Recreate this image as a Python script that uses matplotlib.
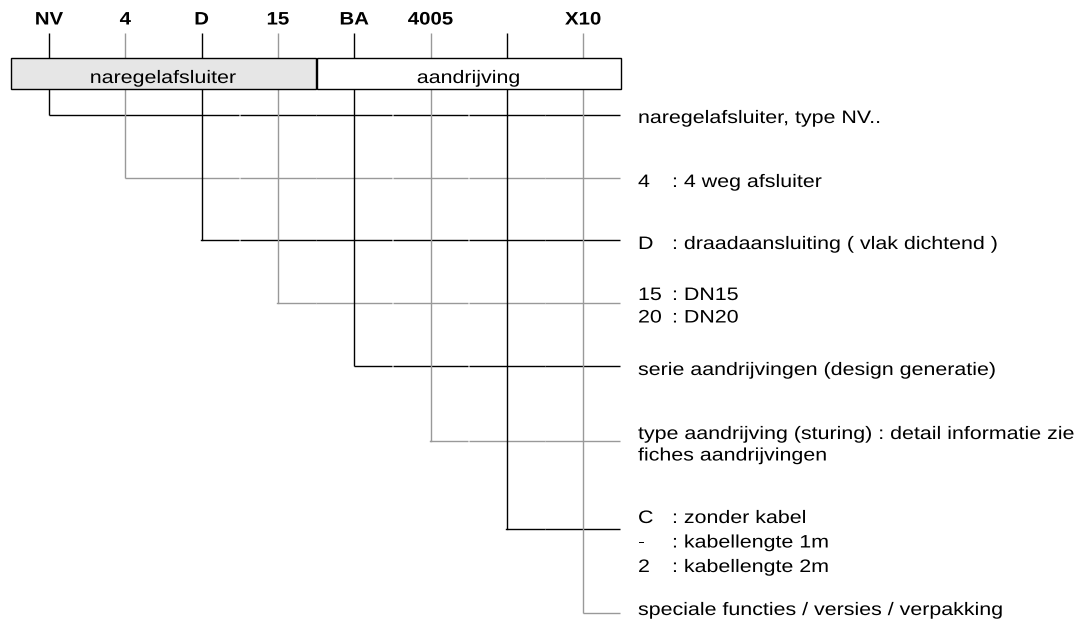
import matplotlib
matplotlib.use("Agg")
import matplotlib.pyplot as plt
import matplotlib.patheffects as pe
from matplotlib.patches import Rectangle
from matplotlib.transforms import Affine2D

# --- content -------------------------------------------------------------
codes = ["NV", "4", "D", "15", "BA", "4005", "", "X10"]
groups = ["naregelafsluiter", "aandrijving"]
group_cols = [(0, 3), (4, 7)]
descriptions = [
    [("", "naregelafsluiter, type NV..")],
    [("4", ": 4 weg afsluiter")],
    [("D", ": draadaansluiting ( vlak dichtend )")],
    [("15", ": DN15"), ("20", ": DN20")],
    [("", "serie aandrijvingen (design generatie)")],
    [("", "type aandrijving (sturing) : detail informatie zie"), ("", "fiches aandrijvingen")],
    [("C", ": zonder kabel"), ("-", ": kabellengte 1m"), ("2", ": kabellengte 2m")],
    [("", "speciale functies / versies / verpakking")],
]

# --- layout (pixels) -----------------------------------------------------
W, H = 1082, 628
col0, col_step = 49, 76.3
row_y = [115, 178, 240, 303, 366, 441, 529, 613]
text_base = [123, 187, 249, 300, 375, 439, 523, 615]
line_gap = [21, 21, 21, 22.5, 21, 21.5, 24.5, 21]
line_end = 620
text_x, colon_x = 638, 672
top_y, box_top, box_bot = 33, 58, 89
BLACK, GREY, FILL = "#000000", "#999999", "#e6e6e6"
FONT = "Liberation Sans"
FS = 13


def col_x(i):
    return col0 + col_step * i


class Wide(pe.AbstractPathEffect):
    # the source text is set wider than Arial, stretch glyphs horizontally
    def __init__(self, sx=1.185, centre=False):
        super().__init__()
        self.sx, self.centre = sx, centre

    def draw_path(self, renderer, gc, tpath, affine, rgbFace=None):
        cx = 0
        if self.centre:
            ext = tpath.get_extents()
            cx = (ext.x0 + ext.x1) / 2
        t = Affine2D().translate(-cx, 0).scale(self.sx, 1).translate(cx, 0)
        renderer.draw_path(gc, tpath, t + affine, rgbFace)


def hline(ax, y, x0, x1, color):
    # lines in the original are built from short pieces with tiny gaps
    cuts = [x0] + [col_x(i + 0.5) for i in range(2, 7) if x0 < col_x(i + 0.5) < x1] + [x1]
    for a, b in zip(cuts[:-1], cuts[1:]):
        ax.plot([a + 0.4, b - 0.4], [y, y], color=color, lw=1.0,
                solid_capstyle="butt", zorder=1)


fig = plt.figure(figsize=(W / 100, H / 100), dpi=100)
ax = fig.add_axes([0, 0, 1, 1])
ax.set_xlim(0, W)
ax.set_ylim(H, 0)
ax.axis("off")

wide_l = [Wide()]
wide_c = [Wide(centre=True)]
wide_b = [Wide(1.13, centre=True)]

# code letters on top + leader lines
for i, code in enumerate(codes):
    x = col_x(i)
    color = BLACK if i % 2 == 0 else GREY
    ax.plot([x, x], [top_y, row_y[i]], color=color, lw=1.0,
            solid_capstyle="butt", zorder=1)
    ax.plot([x - 0.5, x], [row_y[i], row_y[i]], color=color, lw=1.0, zorder=1)
    hline(ax, row_y[i], x - 0.5, line_end, color)
    if code:
        ax.text(x, 24.5, code, ha="center", va="baseline", fontsize=FS,
                fontweight="bold", family=FONT, path_effects=wide_b)

# group boxes
for k, (name, (a, b)) in enumerate(zip(groups, group_cols)):
    x0, x1 = col_x(a - 0.5), col_x(b + 0.5)
    if k == 0:
        x0 = 10
    ax.add_patch(Rectangle((x0 + 0.5, box_top), x1 - x0 - 1, box_bot - box_top,
                           facecolor=FILL if k == 0 else "white",
                           edgecolor=BLACK, lw=1.0, zorder=2))
    ax.text((x0 + x1) / 2, 83, name, ha="center", va="baseline", fontsize=FS,
            family=FONT, zorder=3, path_effects=wide_c)

# descriptions
for i, lines in enumerate(descriptions):
    for j, (key, txt) in enumerate(lines):
        y = text_base[i] + j * line_gap[i]
        if key:
            ax.text(text_x, y, key, ha="left", va="baseline", fontsize=FS,
                    family=FONT, path_effects=wide_l)
            ax.text(colon_x, y, txt, ha="left", va="baseline", fontsize=FS,
                    family=FONT, path_effects=wide_l)
        else:
            ax.text(text_x, y, txt, ha="left", va="baseline", fontsize=FS,
                    family=FONT, path_effects=wide_l)

fig.savefig("out.png", dpi=100, facecolor="white")
